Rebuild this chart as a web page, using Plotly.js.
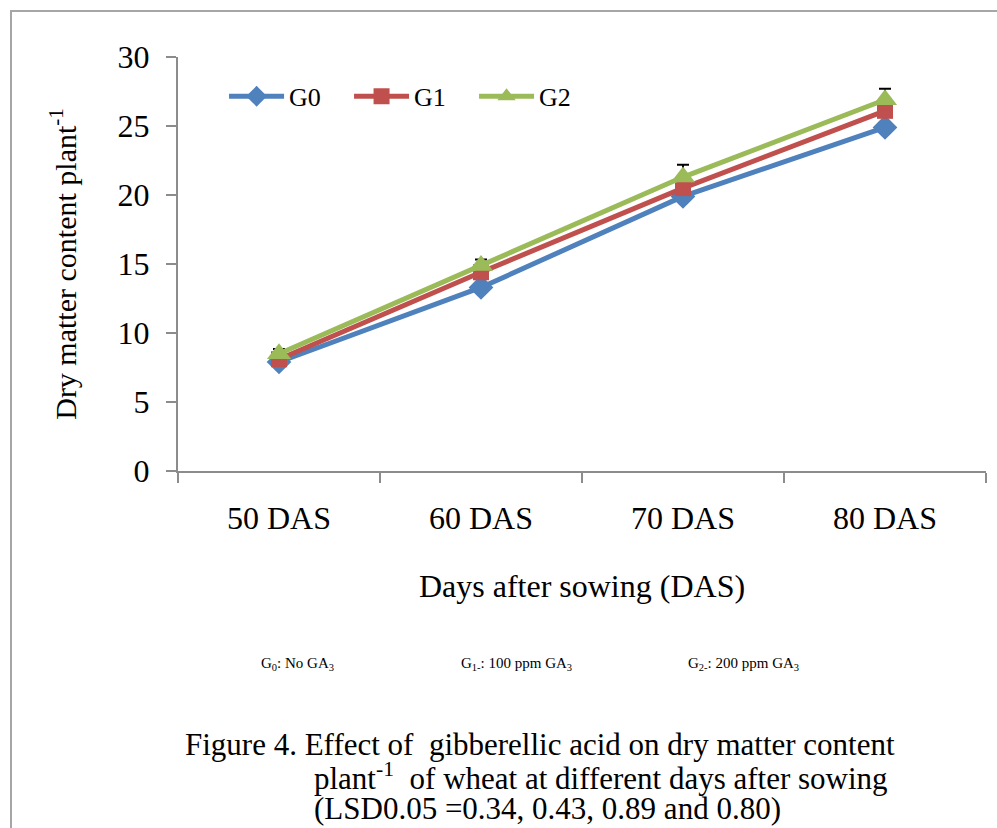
<!DOCTYPE html>
<html>
<head>
<meta charset="utf-8">
<script src="https://cdn.plot.ly/plotly-3.0.1.min.js"></script>
<style>
  html, body { margin: 0; padding: 0; background: #fff; }
  #wrap { position: relative; width: 997px; height: 828px; overflow: hidden; }
  #frame { position: absolute; left: 10px; top: 10px; width: 1100px; height: 1000px; border: 2px solid #a6a6a6; box-sizing: border-box; pointer-events: none; }
  #chart { position: absolute; left: 0; top: 0; width: 997px; height: 828px; }
</style>
</head>
<body>
<div id="wrap">
  <div id="chart"></div>
  <div id="frame"></div>
</div>
<script>
const categories = ["50 DAS", "60 DAS", "70 DAS", "80 DAS"];
const g0 = [7.9, 13.3, 19.9, 24.9];
const g1 = [8.1, 14.4, 20.5, 26.1];
const g2 = [8.5, 14.9, 21.3, 26.9];
const lsdPlus = [0.34, 0.43, 0.89, 0.80];
const lsdMinus = [0, 0, 0, 0];
const seriesNames = ["G0", "G1", "G2"];

const font = "Liberation Serif, Times New Roman, serif";

const traces = [
  {
    x: categories, y: g0, name: seriesNames[0], type: "scatter", mode: "lines+markers",
    line: {color: "#4F81BD", width: 5},
    marker: {symbol: "diamond", size: 19, color: "#4F81BD"}
  },
  {
    x: categories, y: g1, name: seriesNames[1], type: "scatter", mode: "lines+markers",
    line: {color: "#C0504D", width: 5},
    marker: {symbol: "square", size: 16, color: "#C0504D"}
  },
  {
    x: categories, y: g2, name: seriesNames[2], type: "scatter", mode: "lines+markers",
    line: {color: "#9BBB59", width: 5},
    marker: {symbol: "triangle-up", size: 21, color: "#9BBB59"},
    error_y: {type: "data", symmetric: false, array: lsdPlus, arrayminus: lsdMinus, visible: true, color: "#000", thickness: 2, width: 6}
  }
];

const layout = {
  width: 997, height: 828,
  margin: {l: 178, r: 11, t: 57, b: 357},
  paper_bgcolor: "#fff", plot_bgcolor: "#fff",
  font: {family: font, color: "#000", size: 32},
  showlegend: true,
  legend: {
    orientation: "h", x: 0.057, y: 0.905, xanchor: "left", yanchor: "middle",
    font: {family: font, size: 26, color: "#000"}, itemwidth: 55,
    entrywidth: 55, entrywidthmode: "pixels",
    bgcolor: "rgba(0,0,0,0)", tracegroupgap: 0
  },
  xaxis: {
    type: "category", range: [-0.5, 3.5],
    showline: true, linecolor: "#8c8c8c", linewidth: 2,
    ticks: "outside", ticklen: 10, tickcolor: "#8c8c8c", tickwidth: 2,
    tickson: "boundaries", ticklabelstandoff: 18,
    showgrid: false, zeroline: false,
    tickfont: {family: font, size: 32, color: "#000"},
    title: {text: "Days after sowing (DAS)", font: {family: font, size: 32, color: "#000"}, standoff: 39}
  },
  yaxis: {
    range: [0, 30], dtick: 5, tick0: 0,
    showline: true, linecolor: "#8c8c8c", linewidth: 2,
    ticks: "outside", ticklen: 10, tickcolor: "#8c8c8c", tickwidth: 2,
    ticklabelstandoff: 10,
    showgrid: false, zeroline: false,
    tickfont: {family: font, size: 32, color: "#000"},
    title: {text: "Dry matter content plant<sup>-1</sup>", font: {family: font, size: 30, color: "#000"}, standoff: 32}
  },
  annotations: [
    {xref: "paper", yref: "paper", x: 0.10, y: -0.465, xanchor: "left", yanchor: "middle", showarrow: false,
     text: "G<sub>0</sub>: No GA<sub>3</sub>", font: {family: font, size: 15, color: "#000"}},
    {xref: "paper", yref: "paper", x: 0.348, y: -0.465, xanchor: "left", yanchor: "middle", showarrow: false,
     text: "G<sub>1-</sub>: 100 ppm GA<sub>3</sub>", font: {family: font, size: 15, color: "#000"}},
    {xref: "paper", yref: "paper", x: 0.629, y: -0.465, xanchor: "left", yanchor: "middle", showarrow: false,
     text: "G<sub>2-</sub>: 200 ppm GA<sub>3</sub>", font: {family: font, size: 15, color: "#000"}},
    {xref: "paper", yref: "paper", x: 0.0062, y: -0.661, xanchor: "left", yanchor: "middle", showarrow: false,
     text: "Figure 4. Effect of&nbsp; gibberellic acid on dry matter content", font: {family: font, size: 31, color: "#000"}},
    {xref: "paper", yref: "paper", x: 0.1655, y: -0.738, xanchor: "left", yanchor: "middle", showarrow: false,
     text: "plant<sup>-1</sup>&nbsp; of wheat at different days after sowing", font: {family: font, size: 31, color: "#000"}},
    {xref: "paper", yref: "paper", x: 0.1655, y: -0.815, xanchor: "left", yanchor: "middle", showarrow: false,
     text: "(LSD0.05 =0.34, 0.43, 0.89 and 0.80)", font: {family: font, size: 31, color: "#000"}}
  ]
};

Plotly.newPlot("chart", traces, layout, {displayModeBar: false, staticPlot: true});
</script>
</body>
</html>
